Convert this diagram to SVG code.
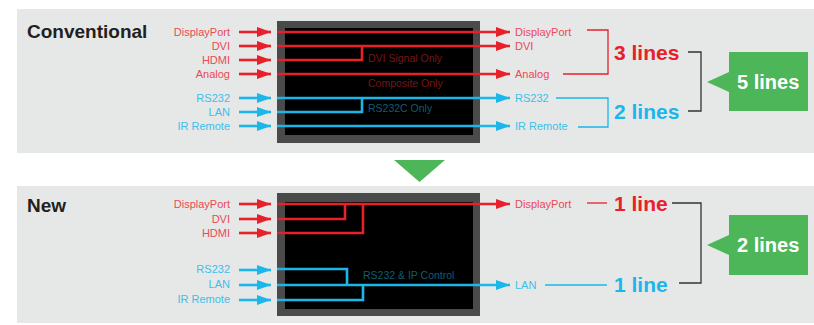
<svg xmlns="http://www.w3.org/2000/svg" width="814" height="325" viewBox="0 0 814 325">
<defs>
<style>
.panel{fill:#e6e7e7}
.frame{fill:#4a4a4b}
.screen{fill:#000}
.r{stroke:#e8202a;stroke-width:2.6;fill:none}
.b{stroke:#1bb6ea;stroke-width:2.6;fill:none}
.rt{stroke:#e8202a;stroke-width:1.3;fill:none}
.bt{stroke:#1bb6ea;stroke-width:1.3;fill:none}
.k{stroke:#333;stroke-width:1.3;fill:none}
.lbl{font-family:"Liberation Sans",Arial,sans-serif;font-size:11px}
.lr{fill:#ea4a55}
.lb{fill:#3cc0ea}
.title{font-family:"Liberation Sans",Arial,sans-serif;font-size:19px;font-weight:bold;fill:#231f20}
.big{font-family:"Liberation Sans",Arial,sans-serif;font-size:21px;font-weight:bold}
.inner{font-family:"Liberation Sans",Arial,sans-serif;font-size:10.5px}
.green{fill:#4db658}
.wt{font-family:"Liberation Sans",Arial,sans-serif;font-size:20px;font-weight:bold;fill:#fff}
</style>
<marker id="ar" viewBox="0 0 14 10" refX="14" refY="5" markerWidth="14" markerHeight="10" markerUnits="userSpaceOnUse" orient="auto"><path d="M0,0 L14,5 L0,10 Z" fill="#e8202a"/></marker>
<marker id="ab" viewBox="0 0 14 10" refX="14" refY="5" markerWidth="14" markerHeight="10" markerUnits="userSpaceOnUse" orient="auto"><path d="M0,0 L14,5 L0,10 Z" fill="#1bb6ea"/></marker>
</defs>

<!-- Top panel -->
<g id="panel-conventional">
<rect class="panel" x="17" y="9" width="797" height="144"/>
<text class="title" x="27" y="38">Conventional</text>
</g>
<g id="monitor-conventional">
<rect class="frame" x="277" y="21" width="203" height="122"/>
<rect class="screen" x="285" y="28" width="188" height="107"/>
<text class="inner" x="368" y="62" fill="#7a1418">DVI Signal Only</text>
<text class="inner" x="368" y="87" fill="#7a1418">Composite Only</text>
<text class="inner" x="368" y="112" fill="#0f5d74">RS232C Only</text>
</g>
<g id="inputs-conventional">
<text class="lbl lr" x="230" y="36" text-anchor="end">DisplayPort</text>
<text class="lbl lr" x="230" y="50" text-anchor="end">DVI</text>
<text class="lbl lr" x="230" y="64" text-anchor="end">HDMI</text>
<text class="lbl lr" x="230" y="78" text-anchor="end">Analog</text>
<text class="lbl lb" x="230" y="102" text-anchor="end">RS232</text>
<text class="lbl lb" x="230" y="116" text-anchor="end">LAN</text>
<text class="lbl lb" x="230" y="130" text-anchor="end">IR Remote</text>
</g>
<g id="outputs-conventional">
<text class="lbl lr" x="515" y="36">DisplayPort</text>
<text class="lbl lr" x="515" y="50">DVI</text>
<text class="lbl lr" x="515" y="78">Analog</text>
<text class="lbl lb" x="515" y="102">RS232</text>
<text class="lbl lb" x="515" y="130">IR Remote</text>
<text class="big" x="614" y="60" fill="#e8202a">3 lines</text>
<text class="big" x="614" y="119" fill="#1bb6ea">2 lines</text>
</g>
<g id="callout-5lines">
<path class="green" d="M729,52 H808 V111 H729 V92 L707,82 L729,72 Z"/>
<text class="wt" x="737" y="89">5 lines</text>
</g>

<!-- Arrow between panels -->
<g id="down-arrow">
<path class="green" d="M394,160 L445,160 L419.5,182 Z"/>
</g>

<!-- Bottom panel -->
<g id="panel-new">
<rect class="panel" x="17" y="186" width="797" height="137"/>
<text class="title" x="27" y="212">New</text>
</g>
<g id="monitor-new">
<rect class="frame" x="277" y="193" width="203" height="123"/>
<rect class="screen" x="285" y="202" width="188" height="107"/>
<text class="inner" x="363" y="279" fill="#0f5d74">RS232 &amp; IP Control</text>
</g>
<g id="inputs-new">
<text class="lbl lr" x="230" y="208" text-anchor="end">DisplayPort</text>
<text class="lbl lr" x="230" y="223" text-anchor="end">DVI</text>
<text class="lbl lr" x="230" y="237" text-anchor="end">HDMI</text>
<text class="lbl lb" x="230" y="273" text-anchor="end">RS232</text>
<text class="lbl lb" x="230" y="288" text-anchor="end">LAN</text>
<text class="lbl lb" x="230" y="303" text-anchor="end">IR Remote</text>
</g>
<g id="outputs-new">
<text class="lbl lr" x="515" y="208">DisplayPort</text>
<text class="lbl lb" x="515" y="289">LAN</text>
<text class="big" x="614" y="211" fill="#e8202a">1 line</text>
<text class="big" x="614" y="292" fill="#1bb6ea">1 line</text>
</g>
<g id="callout-2lines">
<path class="green" d="M729,215 H808 V275 H729 V255 L707,245 L729,235 Z"/>
<text class="wt" x="737" y="252">2 lines</text>
</g>

<!-- Connectors -->
<g id="connectors">
<path class="r" marker-end="url(#ar)" d="M239,32 H271"/>
<path class="r" marker-end="url(#ar)" d="M239,46 H271"/>
<path class="r" marker-end="url(#ar)" d="M239,60 H271"/>
<path class="r" marker-end="url(#ar)" d="M239,74 H271"/>
<path class="b" marker-end="url(#ab)" d="M239,98 H271"/>
<path class="b" marker-end="url(#ab)" d="M239,112 H271"/>
<path class="b" marker-end="url(#ab)" d="M239,126 H271"/>
<path class="r" marker-end="url(#ar)" d="M277,32 H510"/>
<path class="r" marker-end="url(#ar)" d="M277,46 H510"/>
<path class="r" d="M277,60 H362 V46"/>
<path class="r" marker-end="url(#ar)" d="M277,74 H510"/>
<path class="b" marker-end="url(#ab)" d="M277,98 H510"/>
<path class="b" d="M277,112 H362 V98"/>
<path class="b" marker-end="url(#ab)" d="M277,126 H510"/>
<path class="rt" d="M587,30 H608 V74 H563"/>
<path class="bt" d="M556,98 H608 V127 H578"/>
<path class="k" d="M688,52 H701 V111 H688"/>

<path class="r" marker-end="url(#ar)" d="M239,204 H271"/>
<path class="r" marker-end="url(#ar)" d="M239,219 H271"/>
<path class="r" marker-end="url(#ar)" d="M239,233 H271"/>
<path class="b" marker-end="url(#ab)" d="M239,270 H271"/>
<path class="b" marker-end="url(#ab)" d="M239,285 H271"/>
<path class="b" marker-end="url(#ab)" d="M239,300 H271"/>
<path class="r" marker-end="url(#ar)" d="M277,204 H510"/>
<path class="r" d="M277,219 H345 V204"/>
<path class="r" d="M277,233 H363 V204"/>
<path class="b" d="M277,269 H347 V285"/>
<path class="b" marker-end="url(#ab)" d="M277,285 H510"/>
<path class="b" d="M277,300 H363 V285"/>
<path class="rt" d="M587,203 H607"/>
<path class="bt" d="M545,285 H607"/>
<path class="k" d="M672,203 H701 V283 H679"/>
</g>
</svg>
